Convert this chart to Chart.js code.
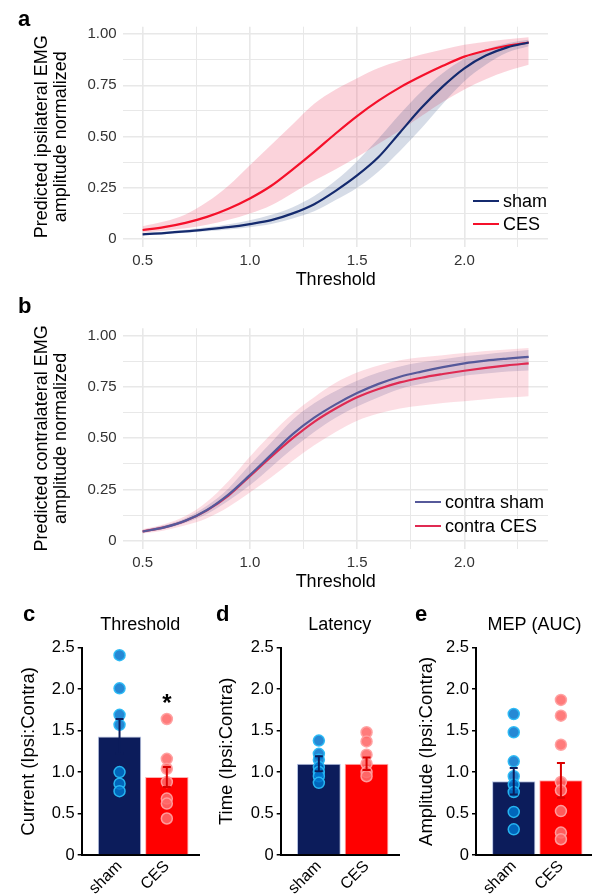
<!DOCTYPE html>
<html>
<head>
<meta charset="utf-8">
<script src="https://cdn.jsdelivr.net/npm/chart.js@4.4.0/dist/chart.umd.min.js"></script>
<style>
  html, body { margin: 0; padding: 0; background: #fff; overflow: hidden; }
  body { width: 592px; height: 895px; position: relative; font-family: "Liberation Sans", Arial, sans-serif; }
  canvas { position: absolute; }
  .tag { position: absolute; font-weight: bold; font-size: 22px; line-height: 1; color: #000; }
  .key { position: absolute; font-size: 18px; line-height: 1; color: #000; white-space: nowrap; }
  .swatch { position: absolute; width: 26px; height: 2px; }
</style>
</head>
<body>
<canvas id="ipsiChart" width="592" height="300" style="left:0;top:0"></canvas>
<canvas id="contraChart" width="592" height="300" style="left:0;top:300px"></canvas>
<canvas id="threshChart" width="206" height="295" style="left:0;top:600px"></canvas>
<canvas id="latChart" width="206" height="295" style="left:200px;top:600px"></canvas>
<canvas id="mepChart" width="200" height="295" style="left:400px;top:600px"></canvas>

<div class="tag" style="left:18px;top:8px">a</div>
<div class="tag" style="left:18px;top:295px">b</div>
<div class="tag" style="left:23px;top:603px">c</div>
<div class="tag" style="left:216px;top:603px">d</div>
<div class="tag" style="left:415px;top:603px">e</div>

<div class="swatch" style="left:473px;top:200px;background:#142a6e"></div>
<div class="key" style="left:503px;top:192px">sham</div>
<div class="swatch" style="left:473px;top:223px;background:#f5102a"></div>
<div class="key" style="left:503px;top:215px">CES</div>

<div class="swatch" style="left:415px;top:501px;background:#56599a"></div>
<div class="key" style="left:445px;top:493px">contra sham</div>
<div class="swatch" style="left:415px;top:525px;background:#e02a52"></div>
<div class="key" style="left:445px;top:517px">contra CES</div>

<script>
// threshold grid shared by the two model curves
const THRESHOLD = [0.5, 0.6, 0.7, 0.8, 0.9, 1.0, 1.1, 1.2, 1.3, 1.4, 1.5, 1.6, 1.7, 1.8, 1.9, 2.0, 2.1, 2.2, 2.3];

// panel a - ipsilateral
const IPSI_SHAM_FIT = [0.023, 0.029, 0.037, 0.047, 0.058, 0.073, 0.092, 0.125, 0.170, 0.235, 0.310, 0.400, 0.520, 0.640, 0.745, 0.833, 0.895, 0.935, 0.959];
const IPSI_SHAM_LO = [0.018, 0.023, 0.030, 0.038, 0.047, 0.058, 0.073, 0.100, 0.135, 0.190, 0.250, 0.330, 0.430, 0.540, 0.660, 0.770, 0.850, 0.910, 0.940];
const IPSI_SHAM_HI = [0.028, 0.035, 0.045, 0.057, 0.072, 0.092, 0.118, 0.155, 0.210, 0.285, 0.380, 0.490, 0.610, 0.720, 0.810, 0.880, 0.925, 0.955, 0.972];
const IPSI_CES_FIT = [0.044, 0.058, 0.079, 0.108, 0.148, 0.198, 0.260, 0.340, 0.425, 0.515, 0.600, 0.675, 0.740, 0.795, 0.845, 0.890, 0.920, 0.943, 0.959];
const IPSI_CES_LO = [0.031, 0.040, 0.052, 0.070, 0.094, 0.125, 0.165, 0.225, 0.285, 0.340, 0.400, 0.465, 0.530, 0.600, 0.670, 0.730, 0.780, 0.820, 0.850];
const IPSI_CES_HI = [0.062, 0.085, 0.120, 0.180, 0.260, 0.360, 0.460, 0.560, 0.660, 0.730, 0.785, 0.835, 0.870, 0.900, 0.925, 0.948, 0.963, 0.975, 0.984];

// panel b - contralateral
const CONTRA_SHAM_FIT = [0.045, 0.065, 0.098, 0.150, 0.225, 0.320, 0.420, 0.520, 0.600, 0.665, 0.720, 0.765, 0.800, 0.825, 0.847, 0.865, 0.878, 0.888, 0.897];
const CONTRA_SHAM_LO = [0.038, 0.057, 0.087, 0.130, 0.195, 0.270, 0.360, 0.450, 0.530, 0.600, 0.655, 0.700, 0.740, 0.765, 0.785, 0.805, 0.815, 0.825, 0.830];
const CONTRA_SHAM_HI = [0.052, 0.075, 0.110, 0.170, 0.255, 0.370, 0.480, 0.590, 0.670, 0.730, 0.780, 0.820, 0.850, 0.870, 0.885, 0.900, 0.910, 0.920, 0.930];
const CONTRA_CES_FIT = [0.045, 0.065, 0.097, 0.148, 0.220, 0.315, 0.410, 0.500, 0.580, 0.645, 0.700, 0.740, 0.772, 0.795, 0.813, 0.829, 0.843, 0.855, 0.865];
const CONTRA_CES_LO = [0.035, 0.050, 0.075, 0.110, 0.165, 0.235, 0.310, 0.390, 0.465, 0.530, 0.585, 0.620, 0.645, 0.660, 0.672, 0.680, 0.690, 0.698, 0.705];
const CONTRA_CES_HI = [0.056, 0.080, 0.120, 0.190, 0.290, 0.410, 0.520, 0.620, 0.700, 0.770, 0.820, 0.855, 0.880, 0.895, 0.905, 0.915, 0.925, 0.933, 0.940];

// axis ticks of the curve panels (minor lines get no label)
const CURVE_X_GRID = [0.5, 0.75, 1.0, 1.25, 1.5, 1.75, 2.0, 2.25];
const CURVE_X_LABELED = [0.5, 1.0, 1.5, 2.0];
const CURVE_Y_GRID = [0, 0.125, 0.25, 0.375, 0.5, 0.625, 0.75, 0.875, 1.0];
const CURVE_Y_LABELS = { 0: "0", 0.25: "0.25", 0.5: "0.50", 0.75: "0.75", 1: "1.00" };

// panels c-e - ratio bars
const GROUPS = ["sham", "CES"];
const BAR_Y_TICKS = [0, 0.5, 1.0, 1.5, 2.0, 2.5];

const THRESH_MEAN = [1.43, 0.94];
const THRESH_SEM = [0.21, 0.12];
const THRESH_SHAM_PTS = [2.41, 2.01, 1.69, 1.57, 1.00, 0.86, 0.77];
const THRESH_CES_PTS = [1.64, 1.16, 1.04, 0.88, 0.68, 0.62, 0.44];
const THRESH_STAR = [null, 1.91];

const LAT_MEAN = [1.10, 1.10];
const LAT_SEM = [0.09, 0.075];
const LAT_SHAM_PTS = [1.38, 1.22, 1.15, 1.06, 1.00, 0.95, 0.87];
const LAT_CES_PTS = [1.48, 1.37, 1.21, 1.10, 1.00, 0.95];

const MEP_MEAN = [0.89, 0.90];
const MEP_SEM = [0.16, 0.21];
const MEP_SHAM_PTS = [1.70, 1.48, 1.13, 0.95, 0.85, 0.76, 0.52, 0.31];
const MEP_CES_PTS = [1.87, 1.68, 1.33, 0.88, 0.78, 0.53, 0.27, 0.19];

Chart.defaults.font.family = '"Liberation Sans", Arial, sans-serif';
Chart.defaults.animation = false;

const NAVY = "#0c1c5b";
const RED = "#ff0000";

function xy(ys) {
  return THRESHOLD.map((x, i) => ({ x: x, y: ys[i] }));
}

/**
 * ggplot-like curve panel: fitted lines with a ribbon each.
 */
function curveChart(id, series, yTitle, pad) {
  const datasets = [];
  series.forEach((s) => {
    datasets.push({
      data: xy(s.fit),
      borderColor: s.line,
      borderWidth: 2.2,
      pointRadius: 0,
      fill: false,
      cubicInterpolationMode: "monotone",
      order: 0,
    });
  });
  series.forEach((s) => {
    datasets.push({
      data: xy(s.hi),
      borderWidth: 0,
      pointRadius: 0,
      backgroundColor: s.band,
      fill: "+1",
      cubicInterpolationMode: "monotone",
      order: 1,
    });
    datasets.push({
      data: xy(s.lo),
      borderWidth: 0,
      pointRadius: 0,
      fill: false,
      cubicInterpolationMode: "monotone",
      order: 1,
    });
  });

  new Chart(document.getElementById(id), {
    type: "line",
    data: { datasets: datasets },
    options: {
      responsive: false,
      layout: { padding: pad },
      plugins: { legend: { display: false }, tooltip: { enabled: false } },
      scales: {
        x: {
          type: "linear",
          min: 0.41,
          max: 2.39,
          afterBuildTicks: (s) => { s.ticks = CURVE_X_GRID.map((v) => ({ value: v })); },
          afterFit: (s) => { s.height = 44; },
          border: { display: false },
          grid: {
            color: "#e8e8e8",
            lineWidth: (c) => (c.tick && CURVE_X_LABELED.includes(c.tick.value) ? 1.6 : 1),
            drawTicks: false,
          },
          ticks: {
            padding: 5,
            color: "#333",
            font: { size: 15 },
            maxRotation: 0,
            autoSkip: false,
            callback: (v) => (CURVE_X_LABELED.includes(v) ? v.toFixed(1) : ""),
          },
          title: { display: true, text: "Threshold", color: "#000", font: { size: 18 }, padding: 0 },
        },
        y: {
          min: -0.038,
          max: 1.036,
          afterBuildTicks: (s) => { s.ticks = CURVE_Y_GRID.map((v) => ({ value: v })); },
          afterFit: (s) => { s.width = 93.3; },
          border: { display: false },
          grid: {
            color: "#e8e8e8",
            lineWidth: (c) => (c.tick && CURVE_Y_LABELS[c.tick.value] !== undefined ? 1.6 : 1),
            drawTicks: false,
          },
          ticks: {
            padding: 6.6,
            color: "#333",
            font: { size: 15 },
            autoSkip: false,
            callback: (v) => (CURVE_Y_LABELS[v] !== undefined ? CURVE_Y_LABELS[v] : ""),
          },
          title: {
            display: true,
            text: yTitle,
            color: "#000",
            font: { size: 18, lineHeight: 1.05 },
            padding: { top: 3, bottom: 0 },
          },
        },
      },
    },
  });
}

// error bars and significance mark for the bar panels
const errorBars = {
  id: "errorBars",
  afterDatasetsDraw(chart, args, opts) {
    const ctx = chart.ctx;
    const x = chart.scales.x;
    const y = chart.scales.y;
    opts.means.forEach((m, i) => {
      const px = x.getPixelForValue(i + 1);
      const top = y.getPixelForValue(m + opts.sem[i]);
      const bot = y.getPixelForValue(m - opts.sem[i]);
      ctx.save();
      ctx.strokeStyle = opts.colors[i];
      ctx.lineWidth = 2;
      ctx.beginPath();
      ctx.moveTo(px, top);
      ctx.lineTo(px, bot);
      ctx.moveTo(px - 4, top);
      ctx.lineTo(px + 4, top);
      ctx.moveTo(px - 4, bot);
      ctx.lineTo(px + 4, bot);
      ctx.stroke();
      if (opts.star && opts.star[i] != null) {
        ctx.fillStyle = "#000";
        ctx.font = 'bold 24px "Liberation Sans", Arial, sans-serif';
        ctx.textAlign = "center";
        ctx.textBaseline = "alphabetic";
        ctx.fillText("*", px, y.getPixelForValue(opts.star[i]) + 14);
      }
      ctx.restore();
    });
  },
};

function barChart(id, cfg) {
  new Chart(document.getElementById(id), {
    type: "bar",
    data: {
      datasets: [
        {
          type: "scatter",
          data: cfg.shamPts.map((v) => ({ x: 1, y: v })),
          pointRadius: 5.5,
          pointBorderWidth: 1.5,
          backgroundColor: "rgba(0,115,205,0.85)",
          borderColor: "rgba(40,185,245,0.95)",
          order: 0,
        },
        {
          type: "scatter",
          data: cfg.cesPts.map((v) => ({ x: 2, y: v })),
          pointRadius: 5.5,
          pointBorderWidth: 1.5,
          backgroundColor: "rgba(255,105,105,0.88)",
          borderColor: "rgba(255,160,160,0.95)",
          order: 0,
        },
        {
          data: cfg.means.map((v, i) => ({ x: i + 1, y: v })),
          backgroundColor: [NAVY, RED],
          borderColor: ["#b8c4e4", "#ffb0b0"],
          borderWidth: 1,
          barPercentage: 0.918,
          categoryPercentage: 1,
          order: 1,
        },
      ],
    },
    options: {
      responsive: false,
      layout: { padding: cfg.pad },
      plugins: {
        legend: { display: false },
        tooltip: { enabled: false },
        title: {
          display: true,
          text: cfg.title,
          color: "#000",
          fullSize: false,
          font: { size: 18, weight: "normal" },
          padding: { top: 14.2, bottom: 11.9 },
        },
        errorBars: { means: cfg.means, sem: cfg.sem, colors: [NAVY, "#d90000"], star: cfg.star },
      },
      scales: {
        x: {
          type: "linear",
          min: 0.2,
          max: 2.68,
          offset: false,
          afterBuildTicks: (s) => { s.ticks = GROUPS.map((g, i) => ({ value: i + 1 })); },
          afterFit: (s) => { s.height = 40; },
          border: { display: true, color: "#000", width: 2 },
          grid: { display: false, offset: false },
          ticks: {
            autoSkip: false,
            minRotation: 45,
            maxRotation: 45,
            padding: -6,
            color: "#000",
            font: { size: 16 },
            callback: (v) => GROUPS[v - 1],
          },
        },
        y: {
          min: 0,
          max: 2.5,
          afterBuildTicks: (s) => { s.ticks = BAR_Y_TICKS.map((v) => ({ value: v })); },
          afterFit: (s) => { s.width = cfg.yWidth; },
          border: { display: true, color: "#000", width: 2 },
          grid: { drawOnChartArea: false, drawTicks: true, tickLength: 4, color: "#000", lineWidth: 1.5 },
          ticks: {
            padding: 3,
            color: "#000",
            font: { size: 16.5 },
            callback: (v) => (v === 0 ? "0" : v.toFixed(1)),
          },
          title: {
            display: true,
            text: cfg.yTitle,
            color: "#000",
            font: { size: 18.5, lineHeight: 1.2 },
            padding: 0,
          },
        },
      },
    },
    plugins: [errorBars],
  });
}

curveChart(
  "ipsiChart",
  [
    { fit: IPSI_SHAM_FIT, lo: IPSI_SHAM_LO, hi: IPSI_SHAM_HI, line: "#142a6e", band: "rgba(30,60,120,0.18)" },
    { fit: IPSI_CES_FIT, lo: IPSI_CES_LO, hi: IPSI_CES_HI, line: "#f5102a", band: "rgba(240,80,110,0.25)" },
  ],
  ["Predicted ipsilateral EMG", "amplitude normalized"],
  { left: 30, top: 26.7, right: 44, bottom: 9.2 }
);

curveChart(
  "contraChart",
  [
    { fit: CONTRA_SHAM_FIT, lo: CONTRA_SHAM_LO, hi: CONTRA_SHAM_HI, line: "#56599a", band: "rgba(90,80,140,0.2)" },
    { fit: CONTRA_CES_FIT, lo: CONTRA_CES_LO, hi: CONTRA_CES_HI, line: "#e02a52", band: "rgba(240,90,120,0.2)" },
  ],
  ["Predicted contralateral EMG", "amplitude normalized"],
  { left: 30, top: 28.3, right: 44, bottom: 7.5 }
);

barChart("threshChart", {
  title: "Threshold",
  yTitle: "Current (Ipsi:Contra)",
  means: THRESH_MEAN,
  sem: THRESH_SEM,
  shamPts: THRESH_SHAM_PTS,
  cesPts: THRESH_CES_PTS,
  star: THRESH_STAR,
  yWidth: 63.7,
  pad: { left: 18, right: 2.8, top: 0, bottom: 0 },
});

barChart("latChart", {
  title: "Latency",
  yTitle: "Time (Ipsi:Contra)",
  means: LAT_MEAN,
  sem: LAT_SEM,
  shamPts: LAT_SHAM_PTS,
  cesPts: LAT_CES_PTS,
  yWidth: 64.8,
  pad: { left: 15.9, right: 4.5, top: 0, bottom: 0 },
});

barChart("mepChart", {
  title: "MEP (AUC)",
  yTitle: "Amplitude (Ipsi:Contra)",
  means: MEP_MEAN,
  sem: MEP_SEM,
  shamPts: MEP_SHAM_PTS,
  cesPts: MEP_CES_PTS,
  yWidth: 60.1,
  pad: { left: 15.9, right: 3.7, top: 0, bottom: 0 },
});
</script>
</body>
</html>
